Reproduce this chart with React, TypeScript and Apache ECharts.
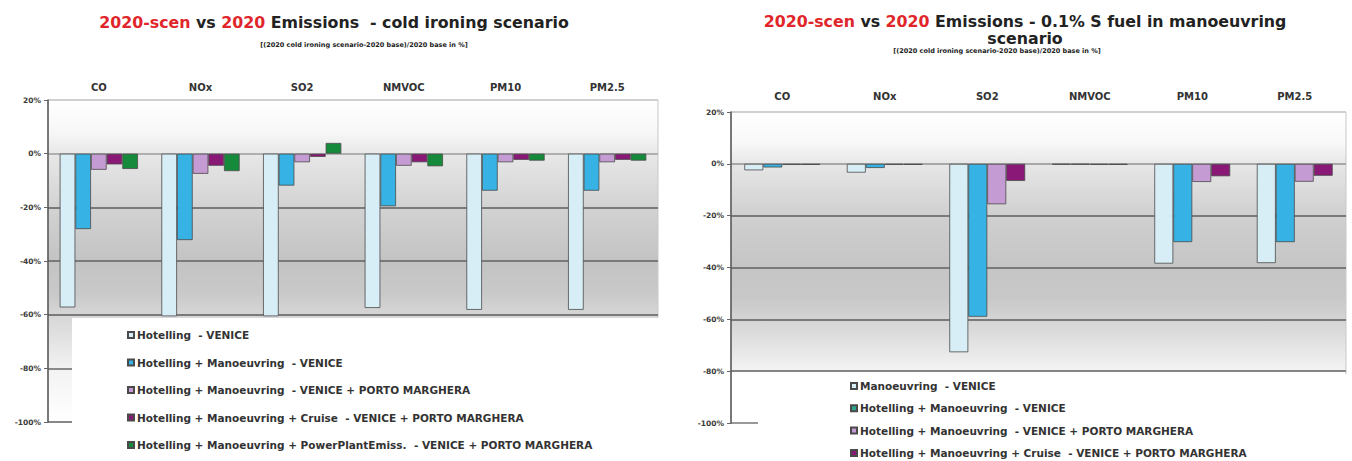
import React, { useEffect, useRef } from "react";
import * as echarts from "echarts";

// ---- data ----
const categories = ["CO", "NOx", "SO2", "NMVOC", "PM10", "PM2.5"];
const yTicks = [-100, -80, -60, -40, -20, 0, 20];

// left chart: cold ironing scenario
const leftNames = [
  "Hotelling  - VENICE",
  "Hotelling + Manoeuvring  - VENICE",
  "Hotelling + Manoeuvring  - VENICE + PORTO MARGHERA",
  "Hotelling + Manoeuvring + Cruise  - VENICE + PORTO MARGHERA",
  "Hotelling + Manoeuvring + PowerPlantEmiss.  - VENICE + PORTO MARGHERA",
];
const hotellingVenice = [-57.3, -60.6, -60.6, -57.5, -58.2, -58.2];
const hotManVenice = [-28.1, -32.2, -11.9, -19.6, -13.8, -13.8];
const hotManVenPM = [-6.0, -7.5, -3.2, -4.5, -3.2, -3.2];
const hotManCruisePM = [-4.0, -4.5, -1.2, -3.2, -2.3, -2.3];
const hotManPowerPM = [-5.7, -6.5, 4.0, -4.7, -2.6, -2.6];

// right chart: 0.1% S fuel in manoeuvring scenario
const rightNames = [
  "Manoeuvring  - VENICE",
  "Hotelling + Manoeuvring  - VENICE",
  "Hotelling + Manoeuvring  - VENICE + PORTO MARGHERA",
  "Hotelling + Manoeuvring + Cruise  - VENICE + PORTO MARGHERA",
];
const manVenice = [-2.5, -3.4, -72.7, -0.3, -38.5, -38.3];
const hotManVenice2 = [-1.4, -1.6, -59.0, -0.3, -30.2, -30.2];
const hotManVenPM2 = [-0.4, -0.4, -15.6, -0.4, -7.0, -6.9];
const hotManCruisePM2 = [-0.4, -0.4, -6.6, -0.4, -4.8, -4.6];

const leftTitle = "{r|2020-scen} {k|vs} {r|2020} {k|Emissions  - cold ironing scenario}";
const rightTitle = "{r|2020-scen} {k|vs} {r|2020} {k|Emissions - 0.1% S fuel in manoeuvring}\n{k|scenario}";
const subTitle = "[(2020 cold ironing scenario-2020 base)/2020 base in %]";

const FONT = "DejaVu Sans";
const colors = ["#d8eef6", "#36b3e4", "#c59bd3", "#8a1877", "#168a3b"];

export default function App() {
  const ref = useRef<HTMLDivElement>(null);
  useEffect(() => {
    if (!ref.current) return;
    const chart = echarts.init(ref.current, null, { renderer: "svg" });

    const TS = 15.8;
    const titleRich = {
      r: { color: "#e0262b", fontFamily: FONT, fontWeight: "bold", fontSize: TS, lineHeight: 16.5 },
      k: { color: "#222", fontFamily: FONT, fontWeight: "bold", fontSize: TS, lineHeight: 16.5 },
    };
    const titleStyle = { fontFamily: FONT, fontWeight: "bold", fontSize: TS, lineHeight: 16.5, color: "#222", rich: titleRich };
    const subStyle = { fontFamily: FONT, fontWeight: "bold", fontSize: 6.5, lineHeight: 8, color: "#222" };

    const leftGrad = new echarts.graphic.LinearGradient(0, 0, 0, 1, [
      { offset: 0, color: "#ffffff" },
      { offset: 0.1, color: "#f7f7f7" },
      { offset: 0.17, color: "#e7e7e7" },
      { offset: 0.33, color: "#d3d3d3" },
      { offset: 0.5, color: "#c3c3c3" },
      { offset: 0.6, color: "#c9c9c9" },
      { offset: 0.667, color: "#d6d6d6" },
      { offset: 0.85, color: "#f4f4f4" },
      { offset: 1, color: "#ffffff" },
    ]);
    const rightGrad = new echarts.graphic.LinearGradient(0, 0, 0, 1, [
      { offset: 0, color: "#ffffff" },
      { offset: 0.1, color: "#f8f8f8" },
      { offset: 0.17, color: "#e6e6e6" },
      { offset: 0.33, color: "#d0d0d0" },
      { offset: 0.5, color: "#c5c5c5" },
      { offset: 0.6, color: "#c8c8c8" },
      { offset: 0.7, color: "#dadada" },
      { offset: 0.83, color: "#f3f3f3" },
      { offset: 0.84, color: "#ffffff" },
      { offset: 1, color: "#ffffff" },
    ]);

    const yAxisBase = (gridIndex: number, splitColors: string[]) => ({
      type: "value",
      gridIndex,
      min: yTicks[0],
      max: yTicks[yTicks.length - 1],
      interval: 20,
      axisLine: { show: true, lineStyle: { color: "#555", width: 1.5 } },
      axisTick: { show: true, length: 4, lineStyle: { color: "#666" } },
      axisLabel: {
        formatter: "{value}%",
        fontFamily: FONT,
        fontWeight: "bold",
        fontSize: 7.5,
        color: "#3a3a3a",
        margin: 7,
      },
      splitLine: { show: true, lineStyle: { color: splitColors, width: 1.8 } },
    });

    const xAxisBase = (gridIndex: number, margin: number) => ({
      type: "category",
      gridIndex,
      data: categories,
      position: "top",
      axisLine: { show: false },
      axisTick: { show: false },
      splitLine: { show: false },
      axisLabel: { fontFamily: FONT, fontWeight: "bold", fontSize: 10, color: "#333", margin },
    });

    const barSeries = (name: string, data: number[], axisIdx: number, gap: string, color: string) => ({
      type: "bar",
      name,
      data,
      xAxisIndex: axisIdx,
      yAxisIndex: axisIdx,
      barGap: "0%",
      barCategoryGap: gap,
      itemStyle: { color, borderColor: "#4a4a4a", borderWidth: 0.8 },
      z: 3,
    });

    const leftData = [hotellingVenice, hotManVenice, hotManVenPM, hotManCruisePM, hotManPowerPM];
    const rightData = [manVenice, hotManVenice2, hotManVenPM2, hotManCruisePM2];

    const legendText = {
      fontFamily: FONT, fontWeight: "bold", fontSize: 10.5, color: "#333", lineHeight: 11,
      padding: [0, 0, 0, -2],
    };

    chart.setOption({
      animation: false,
      backgroundColor: "#ffffff",
      title: [
        { text: leftTitle, left: 334, top: 14.5, textAlign: "center", padding: 0, textStyle: titleStyle },
        { text: subTitle, left: 364, top: 41, textAlign: "center", padding: 0, textStyle: subStyle },
        { text: rightTitle, left: 1025, top: 13.5, textAlign: "center", padding: 0, textStyle: titleStyle },
        { text: subTitle, left: 997, top: 47, textAlign: "center", padding: 0, textStyle: subStyle },
      ],
      grid: [
        {
          left: 48, top: 100, width: 610, height: 322,
          show: true, backgroundColor: leftGrad, borderColor: "#c8c8c8", borderWidth: 1,
        },
        {
          left: 731, top: 112, width: 615, height: 311,
          show: true, backgroundColor: rightGrad, borderColor: "#c8c8c8", borderWidth: 1,
        },
      ],
      xAxis: [xAxisBase(0, 8), xAxisBase(1, 11)],
      yAxis: [
        yAxisBase(0, ["#888888", "#8a8a8a", "#7a7a7a", "#7a7a7a", "#7a7a7a", "#b0b0b0", "#d0d0d0"]),
        yAxisBase(1, ["#999999", "#858585", "#7a7a7a", "#7a7a7a", "#7a7a7a", "#a8a8a8", "#d0d0d0"]),
      ],
      legend: [
        {
          orient: "vertical", left: 127, top: 329.5, padding: 0,
          itemWidth: 6, itemHeight: 6, itemGap: 16.5, icon: "rect",
          textStyle: legendText,
          data: leftNames,
        },
        {
          orient: "vertical", left: 850, top: 380.5, padding: 0,
          itemWidth: 6, itemHeight: 6, itemGap: 11.3, icon: "rect",
          textStyle: legendText,
          data: [
            { name: rightNames[0], itemStyle: { color: colors[0] } },
            { name: rightNames[1], itemStyle: { color: "#2ba58a" } },
            { name: rightNames[2], itemStyle: { color: colors[2] } },
            { name: rightNames[3], itemStyle: { color: colors[3] } },
          ],
        },
      ],
      graphic: [
        { type: "rect", z: 1, shape: { x: 72, y: 318, width: 590, height: 143 }, style: { fill: "#ffffff" } },
        { type: "rect", z: 1, shape: { x: 758, y: 374.5, width: 594, height: 87 }, style: { fill: "#ffffff" } },
      ],
      series: [
        ...leftData.map((d, i) => barSeries(leftNames[i], d, 0, "23%", colors[i])),
        ...rightData.map((d, i) => barSeries(rightNames[i], d, 1, "26%", colors[i])),
      ],
    });
    return () => chart.dispose();
  }, []);
  return (
    <div
      ref={ref}
      style={{ position: "absolute", left: 0, top: 0, width: 1352, height: 461 }}
    />
  );
}
